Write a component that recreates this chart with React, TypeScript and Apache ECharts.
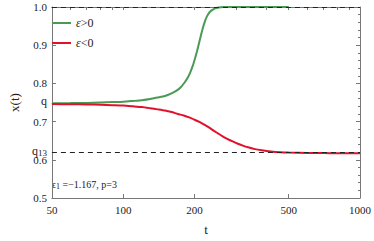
import React, { useEffect, useRef } from "react";
import * as echarts from "echarts";

const tGreen = [50, 60, 70, 80, 90, 100, 110, 120, 130, 140, 150, 160, 168, 175, 181, 187, 192, 197, 201, 205, 209, 213, 217, 221, 226, 232, 240, 250, 265, 290, 350, 420, 500];
const xGreen = [0.748, 0.7485, 0.749, 0.75, 0.751, 0.752, 0.754, 0.756, 0.759, 0.763, 0.767, 0.774, 0.781, 0.79, 0.801, 0.814, 0.829, 0.847, 0.865, 0.884, 0.905, 0.926, 0.945, 0.961, 0.976, 0.987, 0.994, 0.998, 1.0, 1.0, 1.0, 1.0, 1.0];
const tRed = [50, 60, 70, 80, 90, 100, 110, 120, 130, 140, 150, 160, 170, 180, 190, 200, 210, 220, 230, 240, 250, 262, 275, 290, 305, 320, 340, 360, 385, 420, 460, 500, 600, 700, 800, 1000];
const xRed = [0.746, 0.7455, 0.745, 0.744, 0.743, 0.742, 0.74, 0.738, 0.735, 0.732, 0.729, 0.725, 0.72, 0.716, 0.711, 0.705, 0.699, 0.692, 0.685, 0.677, 0.67, 0.662, 0.655, 0.648, 0.642, 0.637, 0.632, 0.628, 0.625, 0.622, 0.62, 0.619, 0.618, 0.6175, 0.617, 0.617];

const xTickValues = [50, 100, 200, 500, 1000];
const xMinorTickValues = [60, 70, 80, 90, 100, 200, 300, 400, 500, 600, 700, 800, 900];
const yTickValues = [0.5, 0.6, 0.7, 0.8, 0.9, 1.0];
const qValue = 0.748;
const q13Value = 0.617;
const upperValue = 1.0;
const seriesNames = ["ε>0", "ε<0"];
const annotation = "{e|ϵ}{s|1}{e| =−1.167, p=3}";

const FONT = "'Liberation Serif', 'Times New Roman', 'DejaVu Serif', serif";

export default function App() {
  const ref = useRef<HTMLDivElement>(null);
  useEffect(() => {
    if (!ref.current) return;
    document.body.style.margin = "0";
    const chart = echarts.init(ref.current, undefined, { renderer: "svg" });
    const axisColor = "#777";
    chart.setOption({
      animation: false,
      textStyle: { fontFamily: FONT },
      grid: { left: 40, right: 13, top: 7, bottom: 38 },
      legend: {
        left: 47,
        top: 12,
        orient: "vertical",
        itemWidth: 19,
        itemHeight: 2,
        itemGap: 8,
        icon: "rect",
        data: seriesNames,
        formatter: (n: string) => "{i|ε}{n|" + n.slice(1) + "}",
        textStyle: {
          fontFamily: FONT,
          fontSize: 12,
          color: "#222",
          rich: {
            i: { fontFamily: FONT, fontSize: 12, fontStyle: "italic", color: "#222" },
            n: { fontFamily: FONT, fontSize: 12, color: "#222" },
          },
        },
      },
      xAxis: [
        {
          type: "log",
          logBase: 10,
          min: 50,
          max: 1000,
          name: "t",
          nameLocation: "middle",
          nameGap: 25,
          nameTextStyle: { fontFamily: FONT, fontSize: 13, color: "#222" },
          axisLine: { lineStyle: { color: axisColor } },
          axisTick: { inside: true, length: 4, customValues: xTickValues, lineStyle: { color: axisColor } },
          axisLabel: {
            customValues: xTickValues,
            fontFamily: FONT,
            fontSize: 11,
            color: "#222",
            margin: 6,
            formatter: (v: number) => String(Math.round(v)),
          },
          splitLine: { show: false },
        },
        {
          type: "log",
          logBase: 10,
          min: 50,
          max: 1000,
          position: "top",
          axisLine: { lineStyle: { color: axisColor } },
          axisTick: { inside: true, length: 3, customValues: xMinorTickValues, lineStyle: { color: axisColor } },
          axisLabel: { show: false },
          splitLine: { show: false },
        },
      ],
      yAxis: [
        {
          type: "value",
          min: 0.5,
          max: 1.0,
          interval: 0.1,
          name: "x(t)",
          nameLocation: "middle",
          nameGap: 30,
          nameRotate: 90,
          nameTextStyle: { fontFamily: FONT, fontSize: 13, color: "#222" },
          axisLine: { show: true, lineStyle: { color: axisColor } },
          axisTick: { show: true, inside: true, length: 4, customValues: [...yTickValues, qValue], lineStyle: { color: axisColor } },
          axisLabel: {
            customValues: [...yTickValues, qValue, q13Value],
            fontFamily: FONT,
            fontSize: 11,
            color: "#222",
            margin: 5,
            formatter: (v: number) => {
              if (Math.abs(v - qValue) < 1e-6) return "{q|q}";
              if (Math.abs(v - q13Value) < 1e-6) return "{q|q}{s|13}";
              return v.toFixed(1);
            },
            rich: {
              q: { fontFamily: FONT, fontSize: 12, color: "#222", padding: [0, 0, 5, 0] },
              s: { fontFamily: FONT, fontSize: 9, color: "#222" },
            },
          },
          splitLine: { show: false },
        },
        {
          type: "value",
          min: 0.5,
          max: 1.0,
          interval: 0.1,
          position: "right",
          axisLine: { show: true, lineStyle: { color: axisColor } },
          axisTick: { show: true, inside: true, length: 4, lineStyle: { color: axisColor } },
          minorTick: { show: true, splitNumber: 5, length: 2, lineStyle: { color: axisColor } },
          axisLabel: { show: false },
          splitLine: { show: false },
        },
      ],
      graphic: [
        {
          type: "text",
          left: 52,
          top: 179,
          style: {
            text: annotation,
            fontFamily: FONT,
            fontSize: 10,
            fill: "#222",
            rich: {
              e: { fontFamily: FONT, fontSize: 10, fill: "#222" },
              s: { fontFamily: FONT, fontSize: 8, fill: "#222", padding: [5, 0, 0, 0] },
            },
          },
        },
      ],
      series: [
        {
          name: seriesNames[0],
          type: "line",
          xAxisIndex: 0,
          yAxisIndex: 0,
          data: tGreen.map((t, i) => [t, xGreen[i]]),
          showSymbol: false,
          smooth: 0.2,
          lineStyle: { color: "#4a9a55", width: 2 },
          itemStyle: { color: "#4a9a55" },
          z: 3,
          markLine: {
            silent: true,
            symbol: "none",
            label: { show: false },
            lineStyle: { color: "#222", type: [5, 4], width: 1.2 },
            data: [{ yAxis: upperValue }, { yAxis: q13Value }],
          },
        },
        {
          name: seriesNames[1],
          type: "line",
          xAxisIndex: 0,
          yAxisIndex: 0,
          data: tRed.map((t, i) => [t, xRed[i]]),
          showSymbol: false,
          smooth: 0.2,
          lineStyle: { color: "#e3102b", width: 2 },
          itemStyle: { color: "#e3102b" },
          z: 3,
        },
      ],
    });
    return () => chart.dispose();
  }, []);
  return <div ref={ref} style={{ width: 374, height: 241 }} />;
}
